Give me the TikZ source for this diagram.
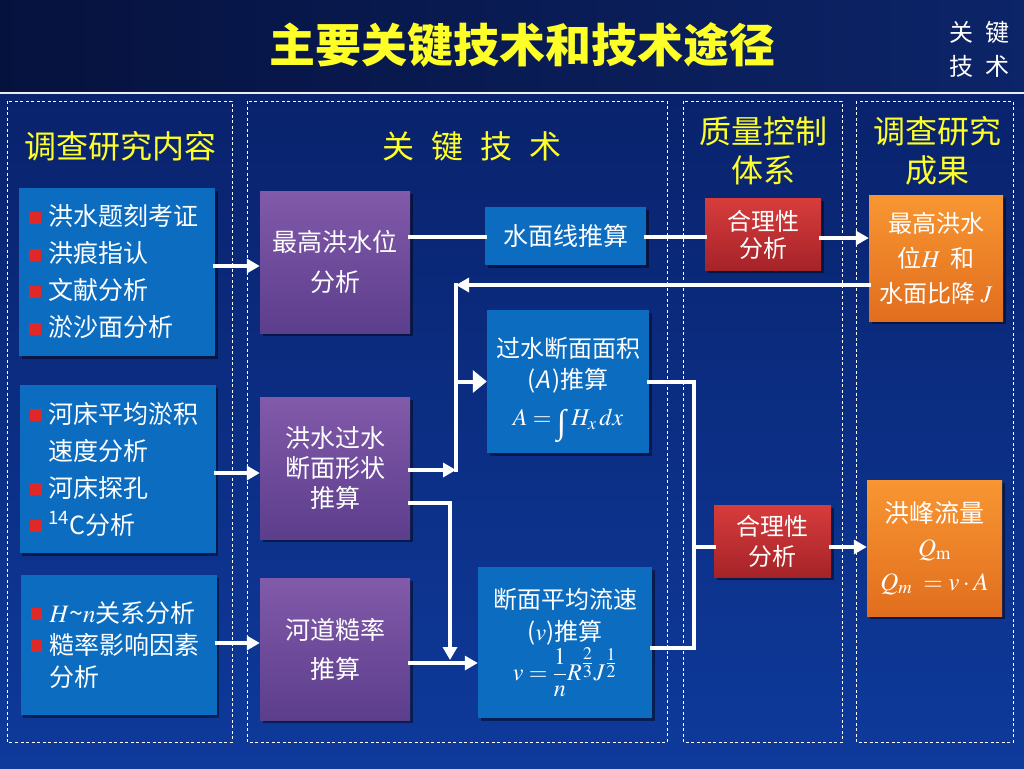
\documentclass[tikz,border=0pt]{standalone}
\usepackage{mathptmx}
\usepackage[no-math]{fontspec}
\setmainfont{Noto Sans CJK SC}
\newfontfamily\cjkit[FakeSlant=0.2]{Noto Sans CJK SC}
\newfontfamily\intfont{Liberation Serif}
\usetikzlibrary{arrows.meta,shadows}

\definecolor{bandleft}{RGB}{6,18,62}
\definecolor{bandright}{RGB}{12,36,104}
\definecolor{bgmid}{RGB}{9,34,108}
\definecolor{bgbot}{RGB}{14,58,155}
\definecolor{boxblue}{RGB}{12,108,192}
\definecolor{purtop}{RGB}{130,90,170}
\definecolor{purbot}{RGB}{92,62,140}
\definecolor{redtop}{RGB}{215,60,60}
\definecolor{redbot}{RGB}{165,35,40}
\definecolor{orgtop}{RGB}{248,150,50}
\definecolor{orgbot}{RGB}{225,110,30}
\definecolor{headyel}{RGB}{255,255,40}
\definecolor{bulred}{RGB}{225,40,40}

\newcommand\bul{\textcolor{bulred}{\rule[2pt]{12pt}{12pt}}\hspace{7pt}}
\newcommand\tallint{\mathop{\raisebox{-8pt}{\fontsize{34}{34}\selectfont\intfont ∫}}\nolimits}

\begin{document}
\begin{tikzpicture}[
		x=1pt,y=-1pt,
		colframe/.style={draw=white,line width=0.8pt,dash pattern=on 3pt off 2.5pt},
		header/.style={text=headyel,align=center,font=\fontsize{32}{39}\selectfont},
		boxshadow/.style={drop shadow={shadow xshift=2.5pt,shadow yshift=-2.5pt,opacity=0.45,fill=black}},
		listbox/.style={boxshadow,fill=boxblue,text=white,align=left,text width=176pt,inner xsep=10pt,font=\fontsize{25}{37}\selectfont},
		purplebox/.style={boxshadow,top color=purtop,bottom color=purbot,text=white,align=center,minimum width=150pt,minimum height=142pt},
		bluebox/.style={boxshadow,fill=boxblue,text=white,align=center},
		checkbox/.style={boxshadow,top color=redtop,bottom color=redbot,text=white,align=center,minimum height=72pt},
		resultbox/.style={boxshadow,top color=orgtop,bottom color=orgbot,text=white,align=center},
		flow/.style={draw=white,line width=4pt,line cap=rect},
		flowarrow/.style={flow,-{Triangle[length=13pt,width=14pt]}},
		bigarrow/.style={flow,-{Triangle[length=14pt,width=22pt]}},
	]
	\useasboundingbox (0,0) rectangle (1024,768);

	% ---------- background ----------
	\fill[left color=bandleft,right color=bandright] (0,0) rectangle (1024,92);
	\fill[top color=bgmid,bottom color=bgbot] (0,92) rectangle (1024,768);
	\draw[gray!15,line width=1.5pt] (0,93) -- (1024,93);

	\node[text=headyel,font=\fontsize{46}{46}\selectfont\bfseries] (title) at (522,45) {主要关键技术和技术途径};
	\node[text=white,align=center,font=\fontsize{24}{34}\selectfont] (tag) at (979,49) {关\hspace{12pt}键\\技\hspace{12pt}术};

	% ---------- columns ----------
	\draw[colframe] (7,101) rectangle (232,742);
	\draw[colframe] (247,101) rectangle (667,742);
	\draw[colframe] (683,101) rectangle (842,742);
	\draw[colframe] (856,101) rectangle (1013,742);

	\node[header] (survey) at (120,146) {调查研究内容};
	\node[header] (keytech) at (472,146) {关\hspace{17pt}键\hspace{17pt}技\hspace{17pt}术};
	\node[header] (quality) at (763,151) {质量控制\\体系};
	\node[header] (results) at (937,151) {调查研究\\成果};

	% ---------- survey contents ----------
	\node[listbox,minimum height=168pt] (survey1) at (117,272) {\bul 洪水题刻考证\\\bul 洪痕指认\\\bul 文献分析\\\bul 淤沙面分析};
	\node[listbox,minimum height=168pt] (survey2) at (117.5,469) {\bul 河床平均淤积\\\hphantom{\bul}速度分析\\\bul 河床探孔\\\bul \textsuperscript{14}C分析};
	\node[listbox,minimum height=140pt,font=\fontsize{25}{32}\selectfont] (survey3) at (118.5,645) {\bul $H$\textasciitilde$n$关系分析\\\bul 糙率影响因素\\\hphantom{\bul}分析};

	% ---------- key techniques ----------
	\node[purplebox,font=\fontsize{25}{40}\selectfont] (flood) at (335,262) {最高洪水位\\分析};
	\node[purplebox,font=\fontsize{25}{30}\selectfont] (section) at (335,468) {洪水过水\\断面形状\\推算};
	\node[purplebox,font=\fontsize{25}{39}\selectfont] (rough) at (335,649) {河道糙率\\推算};

	\node[bluebox,minimum width=161pt,minimum height=58pt,font=\fontsize{25}{30}\selectfont] (profile) at (565.5,236) {水面线推算};
	\node[bluebox,minimum width=162pt,minimum height=143pt,font=\fontsize{24}{31}\selectfont] (area) at (568,381.5) {\rule{0pt}{37pt}过水断面面积\\({\cjkit A}\hspace{2pt})推算\\[6pt]$A=\tallint\,H_x\,dx$};
	\node[bluebox,minimum width=174pt,minimum height=151pt,font=\fontsize{24}{32}\selectfont] (velocity) at (565,642.5) {断面平均流速\\($v$)推算\\[2pt]$\displaystyle v=\frac{1}{n}R^{\textstyle\frac{2}{3}}J^{\textstyle\frac{1}{2}}$};

	% ---------- quality control ----------
	\node[checkbox,minimum width=116pt,font=\fontsize{24}{27}\selectfont] (check1) at (763,234.5) {合理性\\分析};
	\node[checkbox,minimum width=117pt,font=\fontsize{24}{30}\selectfont] (check2) at (772.5,541) {合理性\\分析};

	% ---------- results ----------
	\node[resultbox,minimum width=134pt,minimum height=126pt,font=\fontsize{24}{35}\selectfont] (level) at (936,258) {最高洪水\\位$H$\hspace{10pt}和\\水面比降 $J$};
	\node[resultbox,minimum width=135pt,minimum height=136pt,font=\fontsize{25}{34}\selectfont] (peak) at (934.5,548) {洪峰流量\\$Q_{\mathrm{m}}$\\$Q_m\;=v\cdot A$};

	% ---------- connectors ----------
	\coordinate (fbtop) at (456,285);
	\coordinate (fbbot) at (456,470);
	\coordinate (splitA) at (450,503);
	\coordinate (splitB) at (450,660);
	\coordinate (joinB) at (694,648);
	\coordinate (joinM) at (694,547);

	\draw[flowarrow] ([yshift=6pt]survey1.east) -- ([yshift=-4pt]flood.west);
	\draw[flowarrow] ([yshift=-4pt]survey2.east) -- ([yshift=-5pt]section.west);
	\draw[flowarrow] ([yshift=2pt]survey3.east) -- ([yshift=6pt]rough.west);

	\draw[flow] ([yshift=25pt]flood.east) -- ([yshift=-1pt]profile.west);
	\draw[flow] ([yshift=-1pt]profile.east) -- ([yshift=-2.5pt]check1.west);
	\draw[flowarrow] ([yshift=-3.5pt]check1.east) -- ([yshift=20pt]level.west);

	\draw[flowarrow] ([yshift=-27pt]level.west) -- (fbtop);
	\draw[flow] (fbtop) -- (fbbot);
	\draw[flowarrow] ([yshift=-2pt]section.east) -- (fbbot);
	\draw[bigarrow] (fbtop |- area.west) -- (area.west);

	\draw[flowarrow] ([yshift=-35pt]section.east) -- (splitA) -- (splitB);
	\draw[flowarrow] ([yshift=-14pt]rough.east) -- ([yshift=-20.5pt]velocity.west);

	\draw[flow] (area.east) -| (joinB) -- ([yshift=-5.5pt]velocity.east);
	\draw[flow] (joinM) -- (joinM -| check2.west);
	\draw[flowarrow] ([yshift=-6pt]check2.east) -- ([yshift=1pt]peak.west);

\end{tikzpicture}
\end{document}
